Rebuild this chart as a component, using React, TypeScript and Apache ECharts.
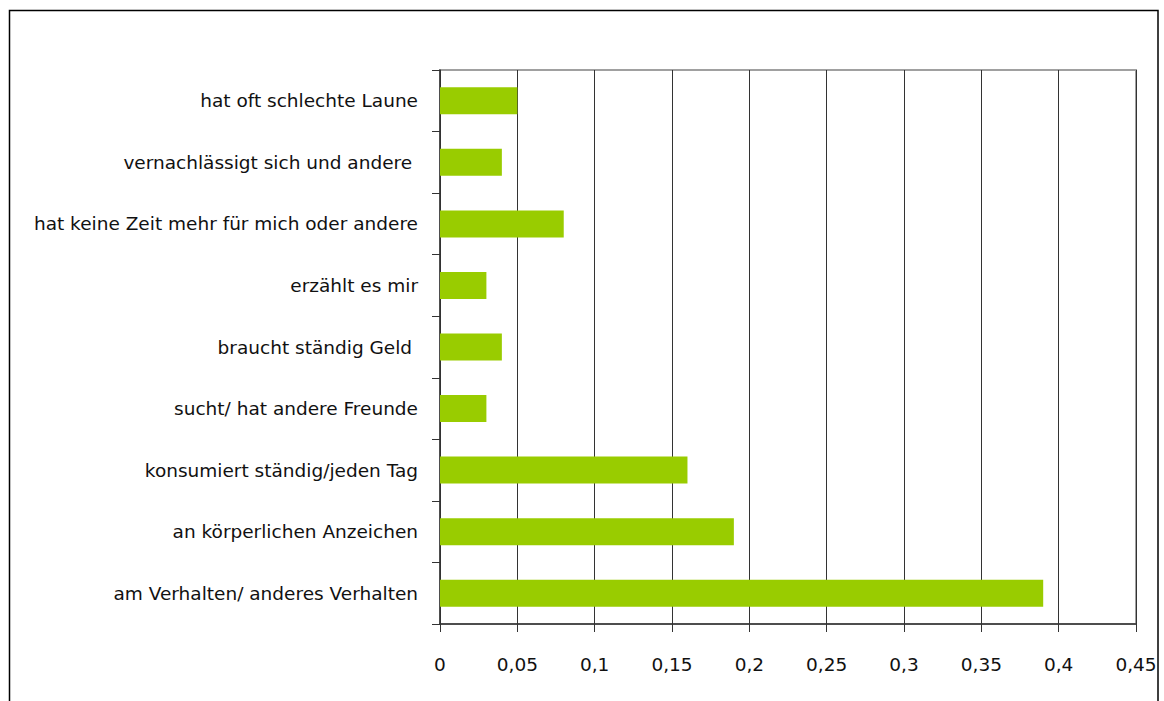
import React, { useEffect, useRef } from "react";
import * as echarts from "echarts";

const categories = [
  "hat oft schlechte Laune",
  "vernachlässigt sich und andere ",
  "hat keine Zeit mehr für mich oder andere",
  "erzählt es mir",
  "braucht ständig Geld ",
  "sucht/ hat andere Freunde",
  "konsumiert ständig/jeden Tag",
  "an körperlichen Anzeichen",
  "am Verhalten/ anderes Verhalten",
];
const values = [0.05, 0.04, 0.08, 0.03, 0.04, 0.03, 0.16, 0.19, 0.39];
const xMin = 0;
const xMax = 0.45;
const xInterval = 0.05;

export default function App() {
  const ref = useRef<HTMLDivElement>(null);
  useEffect(() => {
    document.body.style.margin = "0";
    document.body.style.overflow = "hidden";
    const chart = echarts.init(ref.current!, undefined, { renderer: "svg" });
    const font = "DejaVu Sans";
    chart.setOption({
      animation: false,
      backgroundColor: "#ffffff",
      graphic: [
        {
          type: "rect",
          shape: { x: 9.5, y: 10.5, width: 1148.5, height: 800 },
          style: { fill: "none", stroke: "#000", lineWidth: 1.5 },
          silent: true,
        },
      ],
      grid: {
        left: 440,
        top: 70,
        right: 28,
        bottom: 77,
        show: true,
        borderColor: "#a0a0a0",
        borderWidth: 2,
        backgroundColor: "transparent",
      },
      xAxis: {
        type: "value",
        min: xMin,
        max: xMax,
        interval: xInterval,
        axisLine: { show: true, lineStyle: { color: "#333", width: 1.5 } },
        axisTick: { show: true, length: 8, lineStyle: { color: "#333" } },
        splitLine: { show: true, lineStyle: { color: "#333", width: 1 } },
        axisLabel: {
          margin: 31,
          color: "#111",
          fontFamily: font,
          fontSize: 18.5,
          formatter: (v: number) => String(Math.round(v * 100) / 100).replace(".", ","),
        },
      },
      yAxis: {
        type: "category",
        inverse: true,
        data: categories,
        axisLine: { show: true, lineStyle: { color: "#333", width: 1.5 } },
        axisTick: { show: true, length: 8, lineStyle: { color: "#333" } },
        axisLabel: {
          margin: 22,
          color: "#111",
          fontFamily: font,
          fontSize: 18.5,
          padding: [0, 0, 5, 0],
        },
      },
      series: [
        {
          type: "bar",
          data: values,
          barWidth: 27,
          itemStyle: { color: "#99cc00" },
        },
      ],
    });
    return () => chart.dispose();
  }, []);
  return <div ref={ref} style={{ width: 1164, height: 701 }} />;
}
